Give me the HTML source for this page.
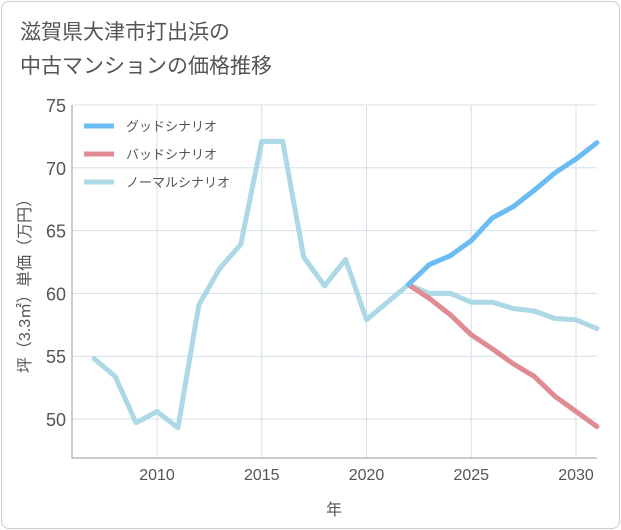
<!DOCTYPE html>
<html><head><meta charset="utf-8"><style>
body{margin:0;background:#fff;font-family:"Liberation Sans","Noto Sans CJK JP",sans-serif;}
.card{position:absolute;left:1px;top:1px;width:617px;height:526px;border:1px solid #ccc;border-radius:8px;background:#fff;}
.title{position:absolute;left:18px;top:14px;font-size:21px;line-height:34px;color:#555;}
</style></head><body>
<div class="card">
<div class="title">滋賀県大津市打出浜の<br>中古マンションの価格推移</div>
</div>
<svg id="chart" width="621" height="530" style="position:absolute;left:0;top:0"></svg>
<script>
const years=[2007,2008,2009,2010,2011,2012,2013,2014,2015,2016,2017,2018,2019,2020,2021,2022,2023,2024,2025,2026,2027,2028,2029,2030,2031];
const normal=[54.8,53.4,49.7,50.6,49.3,59.1,62,63.9,72.1,72.1,62.9,60.6,62.7,57.9,59.3,60.7,60.0,60.0,59.3,59.3,58.8,58.6,58.0,57.9,57.2];
const goodYears=[2022,2023,2024,2025,2026,2027,2028,2029,2030,2031];
const good=[60.7,62.3,63.0,64.2,66.0,66.9,68.2,69.6,70.7,72.0];
const bad=[60.7,59.6,58.3,56.7,55.6,54.4,53.4,51.8,50.6,49.4];
const yTicks=[50,55,60,65,70,75];
const xTicks=[2010,2015,2020,2025,2030];
const L=72,R=597,T=105,B=458;
const x=v=>157+(v-2010)*20.95;
const y=v=>105+(75-v)*12.56;
const svg=document.getElementById('chart');
const NS='http://www.w3.org/2000/svg';
function mk(t,a,p){const e=document.createElementNS(NS,t);for(const k in a)e.setAttribute(k,a[k]);(p||svg).appendChild(e);return e;}
for(const v of yTicks){
 const l=mk('line',{x1:L,x2:R,y1:y(v),y2:y(v),stroke:'#d5e0ea','stroke-width':1});
 
 
 const t=mk('text',{x:L-6,y:y(v)+7,'text-anchor':'end','font-size':18,fill:'#555'});
 t.textContent=v;
 
 
}
for(const v of xTicks){
 const l=mk('line',{x1:x(v),x2:x(v),y1:T,y2:B,stroke:'#d5e0ea','stroke-width':1});
 
 
 const t=mk('text',{x:x(v),y:B+22,'text-anchor':'middle','font-size':16,fill:'#555'});
 t.textContent=v;
 
 
}
const ax=mk('path',{d:`M${L} ${T}V${B}H${R}`,fill:'none',stroke:'#999','stroke-width':1});


function line(xs,ys,c,n){const p=mk('polyline',{points:xs.map((v,i)=>x(v)+','+y(ys[i])).join(' '),fill:'none',stroke:c,'stroke-width':5,'stroke-linejoin':'round','stroke-linecap':'round'});
 
 }
line(years,normal,'#add8e6','normal-scenario-line');
line(goodYears,bad,'#e08a93','bad-scenario-line');
line(goodYears,good,'#6bbcf3','good-scenario-line');
const leg=[['グッドシナリオ','#6bbcf3'],['バッドシナリオ','#e08a93'],['ノーマルシナリオ','#add8e6']];
leg.forEach((g,i)=>{const yy=126+i*28;
 const l=mk('line',{x1:84,x2:114,y1:yy,y2:yy,stroke:g[1],'stroke-width':5});
 
 
 const t=mk('text',{x:126,y:yy+5,'font-size':13,fill:'#555'});t.textContent=g[0];
 
 });
const xt=mk('text',{x:334,y:515,'text-anchor':'middle','font-size':16,fill:'#555'});xt.textContent='年';


const yt=mk('text',{x:0,y:0,'text-anchor':'middle','font-size':16,fill:'#555',transform:'translate(30,282) rotate(-90)'});yt.textContent='坪（3.3㎡）単価（万円）';


</script>
</body></html>
